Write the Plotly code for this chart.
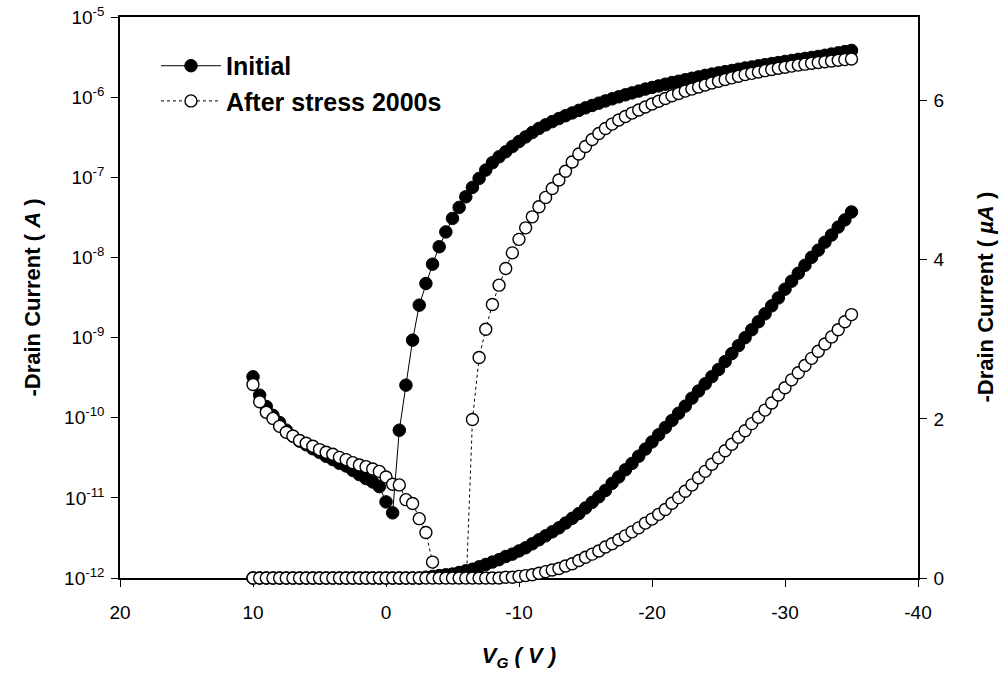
import plotly.graph_objects as go

# Gate voltage sweep (V)
vg = [10, 9.5, 9, 8.5, 8, 7.5, 7, 6.5, 6, 5.5,
      5, 4.5, 4, 3.5, 3, 2.5, 2, 1.5, 1, 0.5,
      0, -0.5, -1, -1.5, -2, -2.5, -3, -3.5, -4, -4.5,
      -5, -5.5, -6, -6.5, -7, -7.5, -8, -8.5, -9, -9.5,
      -10, -10.5, -11, -11.5, -12, -12.5, -13, -13.5, -14, -14.5,
      -15, -15.5, -16, -16.5, -17, -17.5, -18, -18.5, -19, -19.5,
      -20, -20.5, -21, -21.5, -22, -22.5, -23, -23.5, -24, -24.5,
      -25, -25.5, -26, -26.5, -27, -27.5, -28, -28.5, -29, -29.5,
      -30, -30.5, -31, -31.5, -32, -32.5, -33, -33.5, -34, -34.5,
      -35]

# -Drain current (A), log scale, Initial
id_initial_log = [3.24e-10, 1.91e-10, 1.38e-10, 1.07e-10, 8.7e-11, 7.0e-11, 5.9e-11, 5.1e-11, 4.6e-11, 4.1e-11,
                  3.7e-11, 3.3e-11, 3.0e-11, 2.7e-11, 2.5e-11, 2.2e-11, 1.95e-11, 1.74e-11, 1.58e-11, 1.38e-11,
                  8.9e-12, 6.5e-12, 6.98e-11, 2.55e-10, 9.29e-10, 2.54e-9, 4.73e-9, 8.24e-9, 1.36e-8, 2.08e-8,
                  3.07e-8, 4.21e-8, 5.71e-8, 7.48e-8, 9.68e-8, 1.23e-7, 1.52e-7, 1.80e-7, 2.08e-7, 2.42e-7,
                  2.79e-7, 3.19e-7, 3.62e-7, 4.07e-7, 4.51e-7, 4.95e-7, 5.41e-7, 5.87e-7, 6.35e-7, 6.84e-7,
                  7.35e-7, 7.87e-7, 8.41e-7, 8.97e-7, 9.53e-7, 1.01e-6, 1.07e-6, 1.13e-6, 1.19e-6, 1.26e-6,
                  1.32e-6, 1.38e-6, 1.45e-6, 1.52e-6, 1.58e-6, 1.65e-6, 1.72e-6, 1.79e-6, 1.87e-6, 1.94e-6,
                  2.01e-6, 2.08e-6, 2.15e-6, 2.23e-6, 2.31e-6, 2.38e-6, 2.46e-6, 2.54e-6, 2.62e-6, 2.70e-6,
                  2.79e-6, 2.87e-6, 2.96e-6, 3.04e-6, 3.13e-6, 3.22e-6, 3.33e-6, 3.45e-6, 3.57e-6, 3.70e-6,
                  3.83e-6]

# -Drain current (A), log scale, After stress 2000s
id_stress_log = [2.6e-10, 1.58e-10, 1.17e-10, 9.8e-11, 7.8e-11, 6.6e-11, 5.9e-11, 5.2e-11, 4.8e-11, 4.4e-11,
                 4.0e-11, 3.7e-11, 3.5e-11, 3.2e-11, 3.0e-11, 2.75e-11, 2.57e-11, 2.45e-11, 2.29e-11, 2.14e-11,
                 1.82e-11, 1.48e-11, 1.45e-11, 9.5e-12, 8.5e-12, 5.5e-12, 3.7e-12, 1.58e-12, 5e-13, 3e-13,
                 2e-13, 3e-13, 6e-13, 9.5e-11, 5.64e-10, 1.27e-9, 2.59e-9, 4.51e-9, 7.29e-9, 1.14e-8,
                 1.68e-8, 2.34e-8, 3.21e-8, 4.29e-8, 5.61e-8, 7.26e-8, 9.23e-8, 1.19e-7, 1.55e-7, 1.95e-7,
                 2.42e-7, 2.96e-7, 3.52e-7, 4.06e-7, 4.61e-7, 5.18e-7, 5.73e-7, 6.32e-7, 6.90e-7, 7.52e-7,
                 8.20e-7, 8.89e-7, 9.62e-7, 1.04e-6, 1.11e-6, 1.19e-6, 1.26e-6, 1.34e-6, 1.42e-6, 1.50e-6,
                 1.58e-6, 1.66e-6, 1.74e-6, 1.82e-6, 1.91e-6, 1.98e-6, 2.06e-6, 2.14e-6, 2.21e-6, 2.29e-6,
                 2.36e-6, 2.44e-6, 2.51e-6, 2.58e-6, 2.65e-6, 2.71e-6, 2.77e-6, 2.83e-6, 2.89e-6, 2.94e-6,
                 2.99e-6]

# -Drain current (uA), linear scale, Initial
id_initial_lin = [0, 0, 0, 0, 0, 0, 0, 0, 0, 0,
                  0, 0, 0, 0, 0, 0, 0, 0, 0, 0,
                  0, 0, 0, 0, 0, 0, 0.01, 0.02, 0.03, 0.04,
                  0.05, 0.07, 0.09, 0.11, 0.14, 0.17, 0.20, 0.23, 0.27, 0.30,
                  0.34, 0.38, 0.43, 0.48, 0.53, 0.58, 0.63, 0.69, 0.75, 0.81,
                  0.88, 0.95, 1.02, 1.10, 1.19, 1.27, 1.36, 1.44, 1.53, 1.62,
                  1.71, 1.80, 1.89, 1.98, 2.07, 2.16, 2.26, 2.35, 2.44, 2.53,
                  2.62, 2.72, 2.82, 2.92, 3.02, 3.12, 3.22, 3.32, 3.42, 3.52,
                  3.63, 3.73, 3.83, 3.93, 4.03, 4.12, 4.22, 4.31, 4.41, 4.50,
                  4.60]

# -Drain current (uA), linear scale, After stress 2000s
id_stress_lin = [0, 0, 0, 0, 0, 0, 0, 0, 0, 0,
                 0, 0, 0, 0, 0, 0, 0, 0, 0, 0,
                 0, 0, 0, 0, 0, 0, 0, 0, 0, 0,
                 0, 0, 0, 0, 0, 0, 0, 0, 0.01, 0.01,
                 0.02, 0.03, 0.04, 0.06, 0.08, 0.10, 0.12, 0.15, 0.18, 0.22,
                 0.26, 0.30, 0.34, 0.39, 0.43, 0.48, 0.53, 0.58, 0.63, 0.69,
                 0.74, 0.80, 0.86, 0.94, 1.01, 1.09, 1.17, 1.26, 1.34, 1.43,
                 1.51, 1.60, 1.68, 1.77, 1.85, 1.94, 2.02, 2.11, 2.20, 2.30,
                 2.39, 2.49, 2.58, 2.67, 2.76, 2.85, 2.94, 3.03, 3.12, 3.22,
                 3.31]

x_ticks = [20, 10, 0, -10, -20, -30, -40]
x_tick_text = ["20", "10", "0", "-10", "-20", "-30", "-40"]
log_ticks = [1e-12, 1e-11, 1e-10, 1e-9, 1e-8, 1e-7, 1e-6, 1e-5]
log_tick_text = ["10<sup>-12</sup>", "10<sup>-11</sup>", "10<sup>-10</sup>", "10<sup>-9</sup>",
                 "10<sup>-8</sup>", "10<sup>-7</sup>", "10<sup>-6</sup>", "10<sup>-5</sup>"]
lin_ticks = [0, 2, 4, 6]
lin_tick_text = ["0", "2", "4", "6"]

left_title = "<b>-Drain Current ( <i>A</i> )</b>"
right_title = "<b>-Drain Current ( <i>µA</i> )</b>"
x_title = "<b><i>V<sub>G</sub> ( V )</i></b>"

FONT = "Arial, Liberation Sans, sans-serif"

filled = dict(symbol="circle", size=12.5, color="black", line=dict(color="black", width=1))
hollow = dict(symbol="circle", size=12, color="white", line=dict(color="black", width=1.4))

fig = go.Figure()
fig.add_trace(go.Scatter(x=vg, y=id_initial_log, mode="lines+markers", name="<b>Initial</b>",
                         line=dict(color="black", width=1), marker=filled,
                         yaxis="y", legend="legend"))
fig.add_trace(go.Scatter(x=vg, y=id_stress_log, mode="lines+markers", name="<b>After stress 2000s</b>",
                         line=dict(color="black", width=1, dash="dot"), marker=hollow,
                         yaxis="y", legend="legend2"))
fig.add_trace(go.Scatter(x=vg, y=id_initial_lin, mode="lines+markers", showlegend=False,
                         line=dict(color="black", width=1), marker=filled,
                         yaxis="y2", cliponaxis=False))
fig.add_trace(go.Scatter(x=vg, y=id_stress_lin, mode="lines+markers", showlegend=False,
                         line=dict(color="black", width=1, dash="dot"), marker=hollow,
                         yaxis="y2", cliponaxis=False))

axis_common = dict(showgrid=False, zeroline=False, showline=True, linecolor="black", linewidth=1.5,
                   ticks="outside", ticklen=7, tickwidth=1.2, tickcolor="black", automargin=False,
                   ticklabeloverflow="allow",
                   tickfont=dict(family=FONT, size=19, color="black"))

fig.update_layout(
    width=1006, height=677,
    margin=dict(l=120, r=88, t=17, b=99),
    paper_bgcolor="white", plot_bgcolor="white",
    font=dict(family=FONT, color="black"),
    xaxis=dict(range=[20, -40], tickvals=x_ticks, ticktext=x_tick_text, mirror=True, layer="below traces",
               ticklabelstandoff=9,
               title=dict(text=x_title, font=dict(family=FONT, size=22), standoff=26),
               **axis_common),
    yaxis=dict(type="log", range=[-12, -5], tickvals=log_ticks, ticktext=log_tick_text,
               ticklabelstandoff=3, **axis_common),
    yaxis2=dict(overlaying="y", side="right", range=[0, 7.05], tickvals=lin_ticks, ticktext=lin_tick_text,
                ticklabelstandoff=3, **axis_common),
    legend=dict(x=0.0451, y=0.9127, xanchor="left", yanchor="middle", bgcolor="rgba(0,0,0,0)",
                itemwidth=60, font=dict(family=FONT, size=25, color="black")),
    legend2=dict(x=0.0451, y=0.850, xanchor="left", yanchor="middle", bgcolor="rgba(0,0,0,0)",
                 itemwidth=60, font=dict(family=FONT, size=25, color="black")),
    annotations=[
        dict(text=left_title, x=0, y=0.5, xref="paper", yref="paper", xanchor="center", yanchor="middle",
             xshift=-88, textangle=-90, showarrow=False, font=dict(family=FONT, size=22, color="black")),
        dict(text=right_title, x=1, y=0.5, xref="paper", yref="paper", xanchor="center", yanchor="middle",
             xshift=67, textangle=-90, showarrow=False, font=dict(family=FONT, size=22, color="black")),
    ],
)

# Remove the default page margin so the figure fills the window exactly; hide the toolbar.
fig.write_html("out.html", config={"displayModeBar": False},
               post_script="document.body.style.margin='0';document.body.style.overflow='hidden';")
